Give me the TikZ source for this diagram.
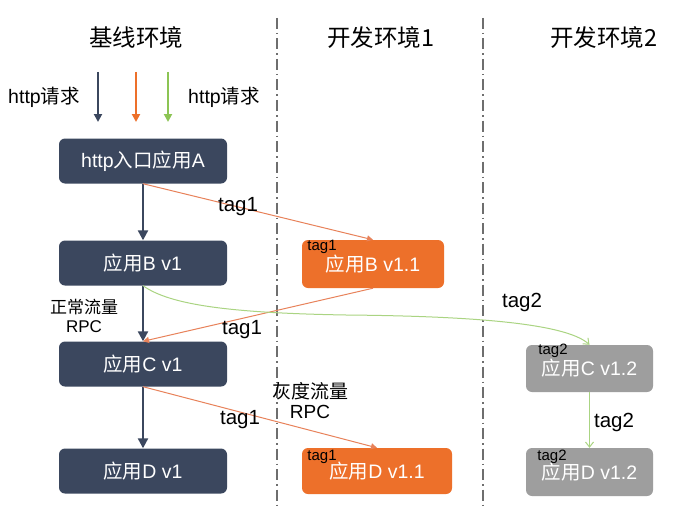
\documentclass[tikz,border=0pt]{standalone}
\usepackage{fontspec}
\setmainfont{Liberation Sans}
\newfontfamily\cjk{Noto Sans CJK SC}
\usetikzlibrary{arrows.meta}
\definecolor{navy}{RGB}{59,71,94}
\definecolor{orng}{RGB}{237,112,42}
\definecolor{orngline}{RGB}{232,130,90}
\definecolor{grn}{RGB}{140,196,84}
\definecolor{grnline}{RGB}{170,212,130}
\definecolor{gbox}{RGB}{158,158,158}
\definecolor{sep}{RGB}{110,110,110}
\tikzset{
  box/.style={rounded corners=6pt, text=white, inner sep=0pt, font=\fontsize{19.5}{21}\selectfont},
  darkbox/.style={box, fill=navy, minimum width=168pt, minimum height=45pt},
  orangebox/.style={box, fill=orng},
  graybox/.style={box, fill=gbox, minimum width=127pt, minimum height=47pt},
  title/.style={font=\cjk\fontsize{23.5}{26}\selectfont},
  lbl/.style={font=\fontsize{20.5}{22}\selectfont},
  small/.style={font=\fontsize{15}{16}\selectfont, inner sep=0pt},
  cn/.style={font=\fontsize{17}{21}\selectfont, align=center},
  darkarrow/.style={navy, line width=2.2pt, -{Triangle[length=10pt,width=10pt]}},
  thinor/.style={orngline, line width=1pt, -{Triangle[length=6pt,width=6pt]}},
  thingr/.style={grnline, line width=1pt, -{Straight Barb[length=5pt,width=8pt]}},
  sepline/.style={sep, line width=1.6pt, dash pattern=on 11pt off 4pt on 1.5pt off 4pt},
}
\begin{document}
\begin{tikzpicture}[x=1pt,y=-1pt]
\useasboundingbox (0,0) rectangle (692,508);
\fill[white] (0,0) rectangle (692,508);

% separators
\coordinate (s1a) at (277,18); \coordinate (s1b) at (277,506);
\coordinate (s2a) at (483,18); \coordinate (s2b) at (483,506);
\draw[sepline] (s1a) -- (s1b);
\draw[sepline] (s2a) -- (s2b);

% titles
\node[title] (t1) at (136,38) {基线环境};
\node[title] (t2) at (381,38) {开发环境1};
\node[title] (t3) at (604,38) {开发环境2};

% incoming arrows
\coordinate (ia1) at (98,72);  \coordinate (ib1) at (98,122);
\coordinate (ia2) at (136,72); \coordinate (ib2) at (136,122);
\coordinate (ia3) at (168,72); \coordinate (ib3) at (168,122);
\draw[navy, line width=2.2pt, -{Triangle[length=8pt,width=8pt]}] (ia1) -- (ib1);
\draw[orng, line width=2.2pt, -{Triangle[length=8pt,width=8pt]}] (ia2) -- (ib2);
\draw[grn, line width=2.2pt, -{Triangle[length=8pt,width=8pt]}] (ia3) -- (ib3);
\node[font=\fontsize{19.5}{21}\selectfont] (h1) at (44,97) {http{\cjk 请求}};
\node[font=\fontsize{19.5}{21}\selectfont] (h2) at (224,97) {http{\cjk 请求}};

% baseline nodes
\node[darkbox] (A) at (143,161) {http{\cjk 入口应用}A};
\node[darkbox] (B) at (143,263) {{\cjk 应用}B v1};
\node[darkbox] (C) at (143,364) {{\cjk 应用}C v1};
\node[darkbox] (D) at (143,471) {{\cjk 应用}D v1};

% dev1 nodes
\node[orangebox, minimum width=142pt, minimum height=48pt] (B11) at (373,264) {{\cjk 应用}B v1.1};
\node[orangebox, minimum width=150pt, minimum height=46pt] (D11) at (377,471) {{\cjk 应用}D v1.1};

% dev2 nodes
\node[graybox] (C12) at (589.5,368.5) {{\cjk 应用}C v1.2};
\node[graybox, minimum height=48pt] (D12) at (589.5,472) {{\cjk 应用}D v1.2};

% small tags
\node[small] (tb) at (322,247) {tag1};
\node[small] (td) at (322,457) {tag1};
\node[small] (tc2) at (553,351) {tag2};
\node[small] (td2) at (552,457) {tag2};

% baseline arrows
\draw[darkarrow] (A) -- (B);
\draw[darkarrow] (B) -- (C);
\draw[darkarrow] (C) -- (D);

% orange tag1 routes
\draw[thinor] (A.south) -- (B11.north);
\draw[thinor] (B11.south) -- (C.north);
\draw[thinor] (C.south) -- (D11.north);

% green tag2 routes
\coordinate (gm) at (346,315);
\draw[thingr] (B.south) .. controls (170,305) and (230,313) .. (gm)
  .. controls (460,316) and (565,322) .. (C12.north);
\draw[thingr] (C12) -- (D12);

% labels
\node[lbl] (l1) at (238,207) {tag1};
\node[lbl] (l2) at (242,330) {tag1};
\node[lbl] (l3) at (240,420) {tag1};
\node[lbl] (l4) at (522,302) {tag2};
\node[lbl] (l5) at (614,422) {tag2};
\node[cn] (n1) at (84,316) {{\cjk 正常流量}\\[-2pt]RPC};
\node[cn, font=\fontsize{19}{22}\selectfont] (n2) at (310,401) {{\cjk 灰度流量}\\[-2pt]RPC};
\end{tikzpicture}
\end{document}
